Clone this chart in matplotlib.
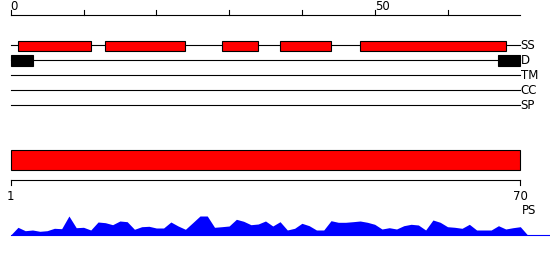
import matplotlib
matplotlib.use('Agg')
import matplotlib.pyplot as plt
from matplotlib.patches import Rectangle
import numpy as np

# sequence length and feature tracks
seq_len = 70
track_names = ['SS', 'D', 'TM', 'CC', 'SP']

# secondary structure segments (start, end)
ss_segments = [(1, 11), (13, 24), (29, 34), (37, 44), (48, 68)]
# disordered segments
d_segments = [(0, 3), (67, 70)]

# bottom scale labels
bottom_ticks = [0, 70]
bottom_labels = ['1', '70']
top_ticks = list(range(0, 61, 10))
top_labels = {0: '0', 50: '50'}

# PS profile, one value per position 0..71
profile = [0, 7.7, 4.3, 5, 3.7, 4.3, 6.7, 6.3, 19, 7.3, 7.7, 5, 13, 12.3, 10.3,
           14, 13.3, 5.7, 8.3, 8.7, 7, 7, 13, 9, 5.7, 12.3, 19, 19, 7.7, 8.3,
           9, 15.7, 13.7, 10.3, 11, 14, 9,
           13.3, 5, 6.7, 11.7, 9.3, 5, 5, 14.3, 12.7, 12.7, 13.3, 14, 12.7,
           10.7, 6, 7.3, 6,
           9.3, 10.7, 10, 5, 15, 12.7, 8.3, 7.7, 6.7, 10.7, 5, 5, 5, 9.3, 6,
           7.3, 8.3, 0]

px = 7.28  # pixels per residue
fig = plt.figure(figsize=(5.5, 2.6), dpi=100)
ax = fig.add_axes([0, 0, 1, 1])
ax.set_xlim(-10.7 / px, (550 - 10.7) / px)
ax.set_ylim(260, 0)
ax.axis('off')

fs = 8.5
lw = 0.8

# top ruler
ax.plot([0, seq_len], [15, 15], color='black', lw=lw)
for t in top_ticks:
    ax.plot([t, t], [10, 15], color='black', lw=lw)
    if t in top_labels:
        ax.text(t, 6, top_labels[t], ha='left', va='center', fontsize=fs)

# tracks
track_y = [45, 60, 75, 90, 105]
for name, y in zip(track_names, track_y):
    ax.plot([0, seq_len], [y, y], color='black', lw=lw)
    ax.text(seq_len + 0.05, y + 0.5, name, ha='left', va='center', fontsize=fs)

for s, e in ss_segments:
    ax.add_patch(Rectangle((s, 40.5), e - s, 10, facecolor='red',
                           edgecolor='black', lw=lw, zorder=3))
for s, e in d_segments:
    ax.add_patch(Rectangle((s, 55), e - s, 10.5, facecolor='black',
                           edgecolor='black', lw=lw, zorder=3))

# full length bar
ax.add_patch(Rectangle((0, 150.3), seq_len, 20, facecolor='red',
                       edgecolor='black', lw=lw, zorder=3))

# bottom ruler
ax.plot([0, seq_len], [180.3, 180.3], color='black', lw=lw)
for t, lab in zip(bottom_ticks, bottom_labels):
    ax.plot([t, t], [180.3, 184.5], color='black', lw=lw)
    ax.text(t, 196, lab, ha='center', va='center', fontsize=fs)
ax.text(seq_len + 0.15, 211, 'PS', ha='left', va='center', fontsize=fs)

# PS profile area
base = 235
xs = np.arange(len(profile))
ax.fill_between(xs, base, base - np.array(profile), color='blue', lw=0)
ax.plot([0, 550 / px], [base, base], color='blue', lw=0.8)

fig.savefig('out.png', dpi=100)
